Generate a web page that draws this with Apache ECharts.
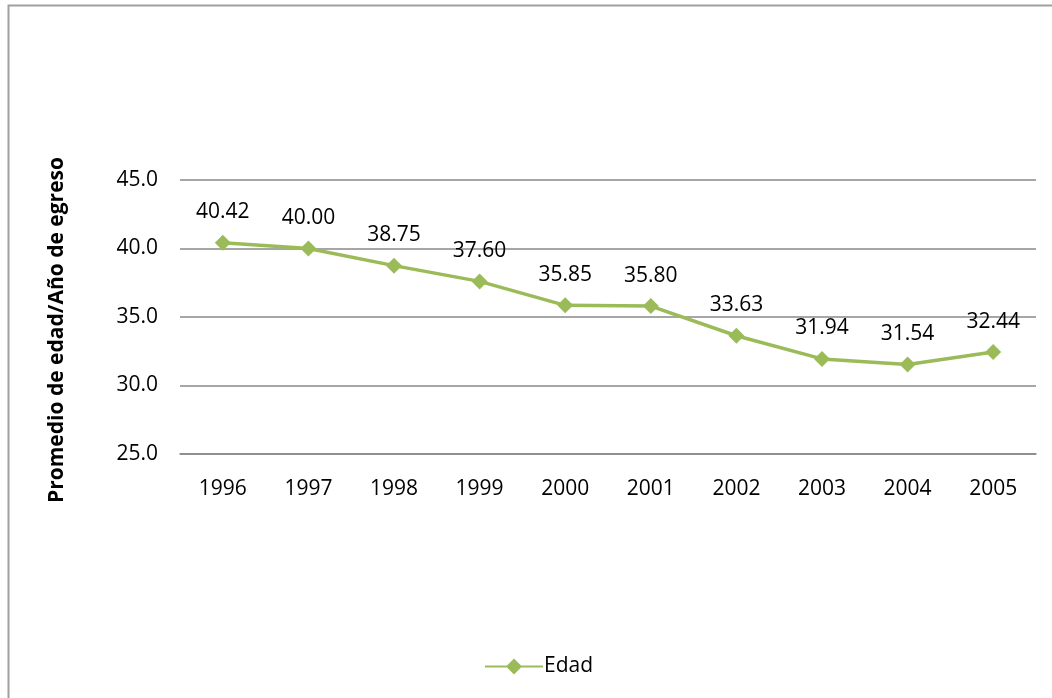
<!DOCTYPE html>
<html><head><meta charset="utf-8">
<script src="https://cdn.jsdelivr.net/npm/echarts@6/dist/echarts.min.js"></script>
<style>html,body{margin:0;padding:0;background:#fff}#c{width:1052px;height:698px}</style>
</head><body><div id="c"></div>
<script>
const categories = ['1996','1997','1998','1999','2000','2001','2002','2003','2004','2005'];
const edad = [40.42, 40.00, 38.75, 37.60, 35.85, 35.80, 33.63, 31.94, 31.54, 32.44];
const seriesName = 'Edad';
const yTitle = 'Promedio de edad/Año de egreso';
const font = 'Open Sans, Liberation Sans, sans-serif';
const chart = echarts.init(document.getElementById('c'));
chart.setOption({
  animation: false,
  textStyle: {fontFamily: font},
  graphic: [{type:'rect', shape:{x:8.5,y:5.5,width:1100,height:750}, style:{fill:'none', stroke:'#a0a0a0', lineWidth:2}}],
  grid: {left:180, right:16, top:180, bottom:244},
  legend: {bottom:16, left:480, itemWidth:58, itemHeight:16, itemGap:4, textStyle:{fontSize:21, color:'#000', fontFamily:font, padding:[0,0,0,-4]},
    data:[{name:seriesName, icon:'path://M0,7 L22,7 L29,0 L36,7 L58,7 L58,9 L36,9 L29,16 L22,9 L0,9 Z'}]},
  xAxis: {type:'category', data:categories, boundaryGap:true,
    axisLine:{lineStyle:{color:'#888', width:1.5}}, axisTick:{show:false},
    axisLabel:{fontSize:21, color:'#000', margin:25, fontFamily:font}},
  yAxis: {type:'value', min:25, max:45, interval:5,
    name:yTitle, nameLocation:'middle', nameGap:112, nameRotate:90,
    nameTextStyle:{fontSize:21, fontWeight:'bold', color:'#000', fontFamily:font, padding:[0,26,0,0]},
    axisLine:{show:false}, axisTick:{show:false},
    splitLine:{lineStyle:{color:'#888', width:1.5}},
    axisLabel:{fontSize:21, color:'#000', margin:22, fontFamily:font, formatter:v=>v.toFixed(1)}},
  series: [{name:seriesName, type:'line', data:edad, symbol:'diamond', symbolSize:16,
    lineStyle:{color:'#9bbb59', width:3.5}, itemStyle:{color:'#9bbb59'},
    label:{show:true, position:'top', distance:12, fontSize:21, color:'#000', fontFamily:font, formatter:p=>p.value.toFixed(2)}}]
});
</script></body></html>
